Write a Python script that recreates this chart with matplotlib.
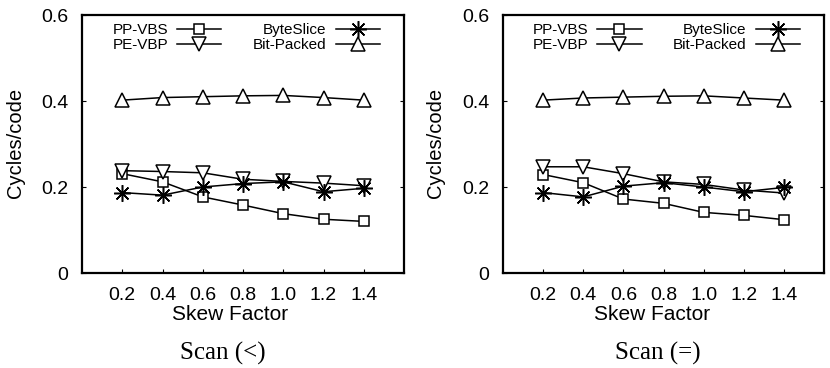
import numpy as np
import matplotlib
matplotlib.use("Agg")
import matplotlib.pyplot as plt

plt.rcParams['font.family'] = ['Liberation Sans', 'DejaVu Sans']

skew = [0.2, 0.4, 0.6, 0.8, 1.0, 1.2, 1.4]
xtick_labels = ["0.2", "0.4", "0.6", "0.8", "1.0", "1.2", "1.4"]

# Scan (<)
lt_pp_vbs = [0.231, 0.212, 0.177, 0.158, 0.138, 0.125, 0.120]
lt_pe_vbp = [0.238, 0.236, 0.233, 0.218, 0.213, 0.209, 0.203]
lt_byteslice = [0.187, 0.181, 0.200, 0.208, 0.212, 0.189, 0.197]
lt_bitpacked = [0.402, 0.408, 0.410, 0.412, 0.413, 0.408, 0.402]

# Scan (=)
eq_pp_vbs = [0.229, 0.210, 0.172, 0.162, 0.141, 0.134, 0.124]
eq_pe_vbp = [0.247, 0.247, 0.231, 0.212, 0.206, 0.193, 0.186]
eq_byteslice = [0.187, 0.177, 0.202, 0.210, 0.200, 0.189, 0.199]
eq_bitpacked = [0.402, 0.407, 0.409, 0.411, 0.412, 0.407, 0.402]

W, H = 830, 368
fig = plt.figure(figsize=(W / 100, H / 100), dpi=100)


def panel(left_px, right_px, pp, pe, bs, bp, ylab_x, xlab_x, cap_x, caption):
    ax = fig.add_axes([left_px / W, (H - 273) / H, (right_px - left_px) / W, 258 / H])
    common = dict(color='black', lw=1.1, mfc='white', mec='black', mew=1.1)
    ax.plot(skew, pp, marker='s', ms=7, label='PP-VBS', **common)
    ax.plot(skew, pe, marker='v', ms=10, label='PE-VBP', **common)
    ax.plot(skew, bs, marker=(8, 2, 0), ms=12, label='ByteSlice', **common)
    ax.plot(skew, bp, marker='^', ms=10, label='Bit-Packed', **common)
    ax.set_xlim(0, 1.6)
    ax.set_ylim(0, 0.6)
    ax.set_xticks(skew)
    ax.set_xticklabels(xtick_labels)
    ax.set_yticks([0, 0.2, 0.4, 0.6])
    ax.set_yticklabels(["0", "0.2", "0.4", "0.6"])
    ax.tick_params(direction='in', length=3, width=0.8, labelsize=14, pad=10,
                   right=True, top=False)
    for s in ax.spines.values():
        s.set_linewidth(1.6)
    ax.legend(ncol=2, markerfirst=False, frameon=False, fontsize=11,
              loc='upper right', bbox_to_anchor=((380 + 6 - 82) / 322, 0.993),
              borderaxespad=0, handlelength=2.9, handletextpad=0.6,
              columnspacing=2.05, labelspacing=0.08)
    fig.text(ylab_x / W, 1 - 143 / H, "Cycles/code", rotation=90,
             ha='center', va='center', fontsize=14.5)
    fig.text(xlab_x / W, 1 - 315 / H, "Skew Factor", ha='center', va='center', fontsize=15)
    fig.text(cap_x / W, 1 - 353 / H, caption, ha='center', va='center',
             fontsize=18, family='Liberation Serif')
    return ax


panel(82, 404, lt_pp_vbs, lt_pe_vbp, lt_byteslice, lt_bitpacked, 15, 230, 223, "Scan (<)")
panel(503, 824, eq_pp_vbs, eq_pe_vbp, eq_byteslice, eq_bitpacked, 435, 652, 658, "Scan (=)")

fig.savefig("out.png", dpi=100)
